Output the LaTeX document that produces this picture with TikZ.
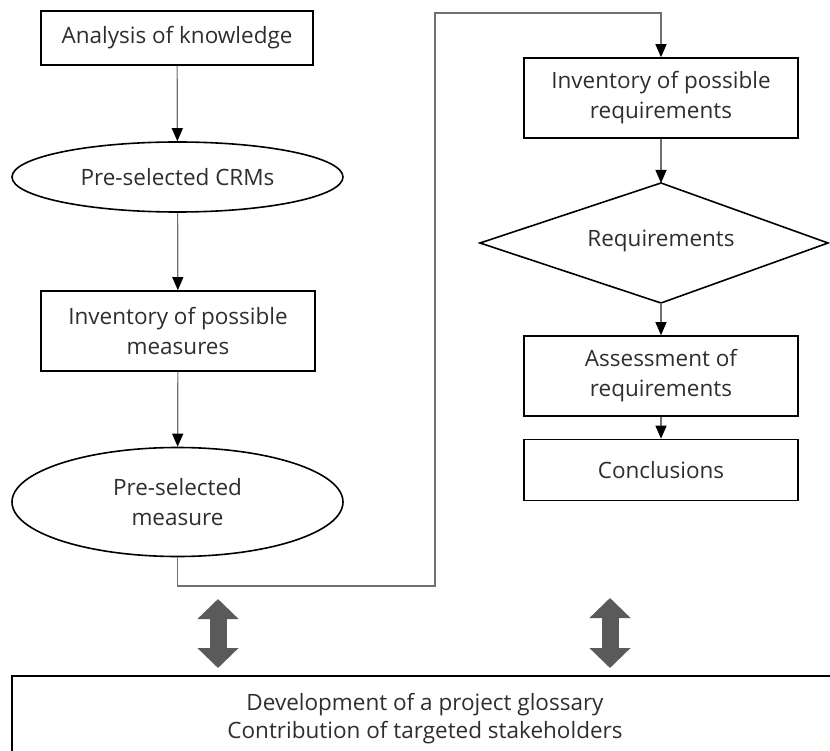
\documentclass[tikz,border=0pt]{standalone}
\usepackage{fontspec}
\setmainfont{Open Sans}
\usetikzlibrary{arrows.meta,shapes.geometric}
\definecolor{ink}{HTML}{2E2E2E}
\definecolor{wire}{HTML}{707070}
\definecolor{bigarrow}{HTML}{5A5A5A}
\begin{document}
\begin{tikzpicture}[x=1pt,y=-1pt,
  every node/.style={font=\fontsize{22.5}{30}\selectfont, text=ink},
  box/.style={draw=black, line width=1.6pt, rectangle, inner sep=0pt, align=center},
  oval/.style={draw=black, line width=1.6pt, ellipse, inner sep=0pt, align=center},
  outline/.style={draw=black, line width=1.6pt, line join=miter},
  flow/.style={draw=wire, line width=1.2pt, -{Triangle[width=11pt,length=13pt,color=black]}},
  twoway/.style={draw=bigarrow, line width=17pt,
    {Triangle[width=40pt,length=20pt,color=bigarrow]}-{Triangle[width=40pt,length=20pt,color=bigarrow]}}
]
\useasboundingbox (0,0) rectangle (830,751);
\clip (0,0) rectangle (830,751);

% left column
\node[box, minimum width=272pt, minimum height=54pt] (know) at (177,38) {Analysis of knowledge};
\node[oval, minimum width=331pt, minimum height=70pt] (crm) at (177.5,177) {Pre-selected CRMs};
\node[box, minimum width=274pt, minimum height=80pt] (meas) at (178,331) {Inventory of possible\\measures};
\node[oval, minimum width=331pt, minimum height=109pt] (pick) at (177.5,502) {Pre-selected\\measure};

% right column
\node[box, minimum width=274pt, minimum height=80pt] (reqinv) at (661,98) {Inventory of possible\\requirements};
\coordinate (dT) at (661,183);
\coordinate (dR) at (828,243);
\coordinate (dB) at (661,303);
\coordinate (dL) at (480,243);
\draw[outline] (dL) -- (dT) -- (dR) -- (dB) -- cycle;
\node (req) at (661,241) {Requirements};
\node[box, minimum width=274pt, minimum height=80pt] (assess) at (661,376) {Assessment of\\requirements};
\node[box, minimum width=274pt, minimum height=61pt] (concl) at (661,470) {Conclusions};

% bottom panel
\node[box, minimum width=826pt, minimum height=120pt, anchor=north] (glossbox) at (425,675) {};
\node[align=center, font=\fontsize{22.5}{28}\selectfont] (glosstext) at (425,719)
  {Development of a project glossary\\Contribution of targeted stakeholders};

% flow connectors
\draw[flow] (know) -- (crm);
\draw[flow] (crm) -- (meas);
\draw[flow] (meas) -- (pick);
\coordinate (c1) at (435,586);
\coordinate (c2) at (435,13);
\draw[flow] (pick.south) |- (c1) -- (c2) -| (reqinv.north);
\draw[flow] (reqinv) -- (dT);
\draw[flow] (dB) -- (assess);
\draw[flow] (assess) -- (concl);

% links to the bottom panel
\coordinate (lu) at (218,599);
\coordinate (ld) at (218,668);
\coordinate (ru) at (610,598);
\coordinate (rd) at (610,668);
\draw[twoway] (lu) -- (ld);
\draw[twoway] (ru) -- (rd);
\end{tikzpicture}
\end{document}
